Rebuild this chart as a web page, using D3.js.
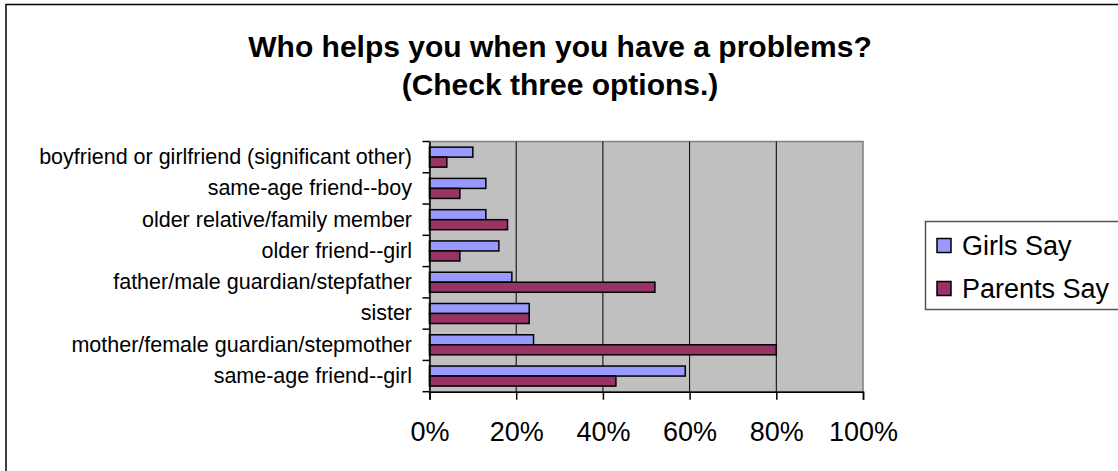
<!DOCTYPE html>
<html>
<head>
<meta charset="utf-8">
<script src="https://cdn.jsdelivr.net/npm/d3@7"></script>
<style>
  html, body { margin: 0; padding: 0; background: #fff; }
  svg { display: block; font-family: "Liberation Sans", Arial, sans-serif; }
</style>
</head>
<body>
<div id="chart"></div>
<script>
// categories listed top to bottom as they appear on the chart
const categories = [
  'boyfriend or girlfriend (significant other)',
  'same-age friend--boy',
  'older relative/family member',
  'older friend--girl',
  'father/male guardian/stepfather',
  'sister',
  'mother/female guardian/stepmother',
  'same-age friend--girl'
];
const seriesNames = ['Girls Say', 'Parents Say'];
const girlsSay   = [0.10, 0.13, 0.13, 0.16, 0.19, 0.23, 0.24, 0.59];
const parentsSay = [0.04, 0.07, 0.18, 0.07, 0.52, 0.23, 0.80, 0.43];
const xTicks = [0, 0.2, 0.4, 0.6, 0.8, 1.0];
const titleLines = ['Who helps you when you have a problems?', '(Check three options.)'];

const colors = { 'Girls Say': '#9999ff', 'Parents Say': '#993366' };

const W = 1118, H = 471;
const plot = { left: 429.5, right: 863, top: 141.5, bottom: 391.7 };

const svg = d3.select('#chart').append('svg')
  .attr('width', W)
  .attr('height', H);

// outer chart frame (runs off the right and bottom of the picture)
svg.append('rect')
  .attr('x', 6).attr('y', 4.5)
  .attr('width', 1140).attr('height', 500)
  .attr('fill', '#fff')
  .attr('stroke', '#000')
  .attr('stroke-width', 1.5);

// title
svg.append('text')
  .attr('x', 560)
  .attr('text-anchor', 'middle')
  .style('font-weight', 'bold')
  .style('font-size', '30px')
  .selectAll('tspan')
  .data(titleLines)
  .enter().append('tspan')
    .attr('x', 560)
    .attr('y', (d, i) => 57 + i * 38)
    .text(d => d);

// scales
const x = d3.scaleLinear()
  .domain([0, 1])
  .range([plot.left, plot.right]);

const y = d3.scaleBand()
  .domain(categories)
  .range([plot.top, plot.bottom])
  .paddingInner(0.36)
  .paddingOuter(0.18);

const ySub = d3.scaleBand()
  .domain(seriesNames)
  .range([0, y.bandwidth()]);

// plot background
svg.append('rect')
  .attr('x', plot.left).attr('y', plot.top)
  .attr('width', plot.right - plot.left)
  .attr('height', plot.bottom - plot.top)
  .attr('fill', '#c0c0c0')
  .attr('stroke', '#808080')
  .attr('stroke-width', 1.5);

// gridlines
svg.append('g')
  .selectAll('line')
  .data(xTicks.filter(t => t > 0 && t < 1))
  .enter().append('line')
    .attr('x1', d => x(d)).attr('x2', d => x(d))
    .attr('y1', plot.top).attr('y2', plot.bottom)
    .attr('stroke', '#000')
    .attr('stroke-width', 1);

// bars
const rows = categories.map((c, i) => ({ cat: c, values: [
  { name: 'Girls Say', v: girlsSay[i] },
  { name: 'Parents Say', v: parentsSay[i] }
]}));

const groups = svg.append('g')
  .selectAll('g')
  .data(rows)
  .enter().append('g')
    .attr('transform', d => `translate(0,${y(d.cat)})`);

groups.selectAll('rect')
  .data(d => d.values)
  .enter().append('rect')
    .attr('x', x(0))
    .attr('y', d => ySub(d.name))
    .attr('width', d => x(d.v) - x(0))
    .attr('height', ySub.bandwidth())
    .attr('fill', d => colors[d.name])
    .attr('stroke', '#000')
    .attr('stroke-width', 1.5);

// x axis
const xAxis = svg.append('g')
  .attr('transform', `translate(0,${plot.bottom})`)
  .call(d3.axisBottom(x)
    .tickValues(xTicks)
    .tickFormat(d3.format('.0%'))
    .tickSize(8)
    .tickPadding(22));
xAxis.select('.domain').attr('stroke', '#000').attr('stroke-width', 1.5);
xAxis.selectAll('.tick line').attr('stroke', '#000').attr('stroke-width', 1.5);
xAxis.selectAll('text')
  .attr('fill', '#000')
  .style('font-size', '27px')
  .style('font-family', '"Liberation Sans", Arial, sans-serif');

// y axis: labels at band centres, tick marks at category boundaries
const yAxis = svg.append('g')
  .attr('transform', `translate(${plot.left},0)`)
  .call(d3.axisLeft(y).tickSize(0).tickPadding(17.5));
yAxis.select('.domain').attr('stroke', '#000').attr('stroke-width', 1.5);
yAxis.selectAll('text')
  .attr('fill', '#000')
  .style('font-size', '21.5px')
  .style('font-family', '"Liberation Sans", Arial, sans-serif');

const gap = (y.step() - y.bandwidth()) / 2;
const bounds = categories.map(c => y(c) - gap).concat([y(categories[categories.length - 1]) + y.bandwidth() + gap]);
svg.append('g')
  .selectAll('line')
  .data(bounds)
  .enter().append('line')
    .attr('x1', plot.left - 7).attr('x2', plot.left)
    .attr('y1', d => d).attr('y2', d => d)
    .attr('stroke', '#000')
    .attr('stroke-width', 1.5);

// legend
const legend = svg.append('g');
legend.append('rect')
  .attr('x', 925.5).attr('y', 221.5)
  .attr('width', 220).attr('height', 88)
  .attr('fill', '#fff')
  .attr('stroke', '#555')
  .attr('stroke-width', 1.5);

const items = legend.selectAll('g.item')
  .data(seriesNames)
  .enter().append('g')
    .attr('class', 'item')
    .attr('transform', (d, i) => `translate(937,${238.5 + i * 43})`);
items.append('rect')
  .attr('width', 14).attr('height', 14)
  .attr('fill', d => colors[d])
  .attr('stroke', '#000')
  .attr('stroke-width', 1.5);
items.append('text')
  .attr('x', 25)
  .attr('y', 7)
  .attr('dy', '0.35em')
  .style('font-size', '27px')
  .text(d => d);
</script>
</body>
</html>
